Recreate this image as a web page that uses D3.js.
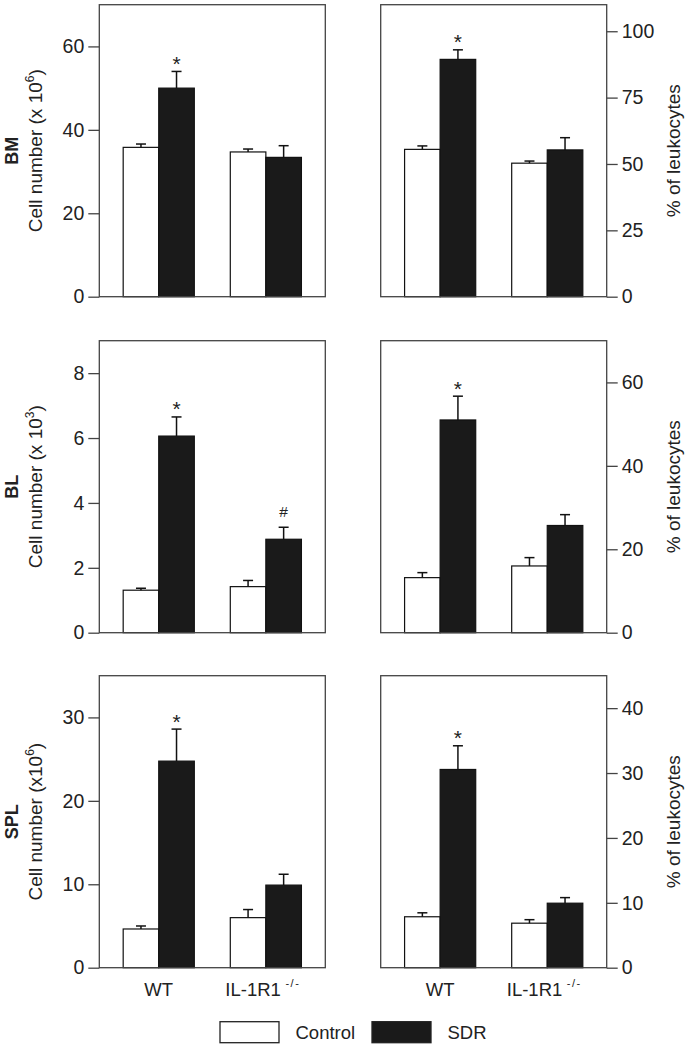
<!DOCTYPE html>
<html>
<head>
<meta charset="utf-8">
<script src="https://cdn.jsdelivr.net/npm/d3@7"></script>
<style>
  html, body { margin: 0; padding: 0; background: #fff; }
  svg { display: block; }
  text { font-family: "Liberation Sans", Arial, Helvetica, sans-serif; fill: #222; }
</style>
</head>
<body>
<svg id="chart" width="694" height="1050"></svg>
<script>
// ---------------- DATA ----------------
const groups = ["WT", "IL-1R1"];
const conditions = ["Control", "SDR"];
const organs = ["BM", "BL", "SPL"];

// values ordered: WT Control, WT SDR, IL-1R1 Control, IL-1R1 SDR
const bmCount    = [35.8, 50.0, 34.7, 33.4];
const bmCountErr = [0.8, 4.0, 0.7, 2.8];
const bmPct      = [55.5, 89.4, 50.3, 55.3];
const bmPctErr   = [1.3, 3.6, 0.8, 4.6];

const blCount    = [1.31, 6.06, 1.42, 2.88];
const blCountErr = [0.06, 0.59, 0.19, 0.37];
const blPct      = [13.2, 51.0, 16.0, 25.7];
const blPctErr   = [1.2, 5.7, 2.0, 2.6];

const splCount    = [4.64, 24.76, 6.0, 9.9];
const splCountErr = [0.36, 3.84, 0.97, 1.3];
const splPct      = [7.85, 30.55, 6.86, 9.94];
const splPctErr   = [0.61, 3.65, 0.54, 0.86];

// significance marks
const bmCountMarks  = ["", "*", "", ""];
const bmPctMarks    = ["", "*", "", ""];
const blCountMarks  = ["", "*", "", "#"];
const blPctMarks    = ["", "*", "", ""];
const splCountMarks = ["", "*", "", ""];
const splPctMarks   = ["", "*", "", ""];

// axis domains and ticks
const bmCountTicks  = [0, 20, 40, 60];
const bmPctTicks    = [0, 25, 50, 75, 100];
const blCountTicks  = [0, 2, 4, 6, 8];
const blPctTicks    = [0, 20, 40, 60];
const splCountTicks = [0, 10, 20, 30];
const splPctTicks   = [0, 10, 20, 30, 40];
const domainMax = { bmCount: 70, bmPct: 110, blCount: 9, blPct: 70, splCount: 35, splPct: 45 };

// y titles
const countTitles = [
  { pre: "Cell number (x 10", sup: "6", post: ")" },
  { pre: "Cell number (x 10", sup: "3", post: ")" },
  { pre: "Cell number (x10", sup: "6", post: ")" }
];
const pctTitle = "% of leukocytes";
const xLabels = [{ main: "WT", sup: "" }, { main: "IL-1R1", sup: " -/-" }];

// ---------------- LAYOUT ----------------
const svg = d3.select("#chart");
const colX = [99.3, 380.7];
const rowY = [4.7, 340.7, 675.7];
const PW = 226, PH = 292;
const FS = 18.5;
const TFS = 19.5;

const panels = [
  { row: 0, col: 0, vals: bmCount, errs: bmCountErr, marks: bmCountMarks, ticks: bmCountTicks, max: domainMax.bmCount },
  { row: 0, col: 1, vals: bmPct, errs: bmPctErr, marks: bmPctMarks, ticks: bmPctTicks, max: domainMax.bmPct },
  { row: 1, col: 0, vals: blCount, errs: blCountErr, marks: blCountMarks, ticks: blCountTicks, max: domainMax.blCount },
  { row: 1, col: 1, vals: blPct, errs: blPctErr, marks: blPctMarks, ticks: blPctTicks, max: domainMax.blPct },
  { row: 2, col: 0, vals: splCount, errs: splCountErr, marks: splCountMarks, ticks: splCountTicks, max: domainMax.splCount },
  { row: 2, col: 1, vals: splPct, errs: splPctErr, marks: splPctMarks, ticks: splPctTicks, max: domainMax.splPct }
];

const xGroup = d3.scaleBand().domain(groups).range([0, PW]).paddingInner(0.336).paddingOuter(0.223);
const xCond = d3.scaleBand().domain(conditions).range([0, xGroup.bandwidth()]).padding(0);

panels.forEach(p => {
  const g = svg.append("g").attr("transform", `translate(${colX[p.col]},${rowY[p.row]})`);
  const y = d3.scaleLinear().domain([0, p.max]).range([PH, 0]);

  const data = [];
  groups.forEach((gr, gi) => conditions.forEach((c, ci) => {
    const i = gi * 2 + ci;
    data.push({ group: gr, cond: c, v: p.vals[i], e: p.errs[i], mark: p.marks[i] });
  }));

  // bars
  g.selectAll("rect.bar").data(data).enter().append("rect")
    .attr("class", "bar")
    .attr("x", d => xGroup(d.group) + xCond(d.cond))
    .attr("y", d => y(d.v))
    .attr("width", xCond.bandwidth())
    .attr("height", d => PH - y(d.v))
    .attr("fill", d => d.cond === "SDR" ? "#1a1a1a" : "#ffffff")
    .attr("stroke", "#111")
    .attr("stroke-width", 1.2);

  // error bars (upper)
  const cx = d => xGroup(d.group) + xCond(d.cond) + xCond.bandwidth() / 2;
  g.selectAll("line.stem").data(data).enter().append("line")
    .attr("x1", cx).attr("x2", cx)
    .attr("y1", d => y(d.v)).attr("y2", d => y(d.v + d.e))
    .attr("stroke", "#111").attr("stroke-width", 1.5);
  g.selectAll("line.cap").data(data).enter().append("line")
    .attr("x1", d => cx(d) - 5).attr("x2", d => cx(d) + 5)
    .attr("y1", d => y(d.v + d.e)).attr("y2", d => y(d.v + d.e))
    .attr("stroke", "#111").attr("stroke-width", 1.5);

  // marks
  g.selectAll("text.mark").data(data.filter(d => d.mark)).enter().append("text")
    .attr("x", cx)
    .attr("y", d => y(d.v + d.e) - (d.mark === "#" ? 10 : 0.5))
    .attr("text-anchor", "middle")
    .style("font-size", d => d.mark === "#" ? "15.5px" : "21px")
    .text(d => d.mark);

  // frame
  g.append("rect").attr("x", 0).attr("y", 0).attr("width", PW).attr("height", PH)
    .attr("fill", "none").attr("stroke", "#444").attr("stroke-width", 1.3);

  // y axis
  const axis = (p.col === 0 ? d3.axisLeft(y) : d3.axisRight(y))
    .tickValues(p.ticks).tickSize(11).tickPadding(4).tickFormat(d3.format("d"));
  const ag = g.append("g").attr("transform", p.col === 0 ? "translate(0,0)" : `translate(${PW},0)`).call(axis);
  ag.select(".domain").remove();
  ag.selectAll(".tick line").attr("stroke", "#444").attr("stroke-width", 1.3);
  ag.selectAll(".tick text").style("font-size", TFS + "px").style("font-family", "Liberation Sans, Arial, sans-serif").attr("fill", "#222");

  const cy = PH / 2;
  if (p.col === 0) {
    // organ label (bold) and count title
    g.append("text")
      .attr("transform", `translate(${18.3 - colX[0]},${cy}) rotate(-90)`)
      .attr("text-anchor", "middle")
      .style("font-size", "18px").style("font-weight", "bold")
      .text(organs[p.row]);
    const t = countTitles[p.row];
    const tt = g.append("text")
      .attr("transform", `translate(${41.5 - colX[0]},${cy}) rotate(-90)`)
      .attr("text-anchor", "middle")
      .style("font-size", "19px");
    tt.append("tspan").text(t.pre);
    tt.append("tspan").attr("dy", -8).style("font-size", "12px").text(t.sup);
    tt.append("tspan").attr("dy", 8).text(t.post);
  } else {
    g.append("text")
      .attr("transform", `translate(${680 - colX[1]},${cy}) rotate(-90)`)
      .attr("text-anchor", "middle")
      .style("font-size", "19px")
      .text(pctTitle);
  }

  // x labels on bottom row
  if (p.row === 2) {
    groups.forEach((gr, gi) => {
      const lab = xLabels[gi];
      const tx = g.append("text")
        .attr("x", xGroup(gr) + xGroup.bandwidth() / 2 - (lab.sup ? 3 : 0))
        .attr("y", 996 - rowY[2])
        .attr("text-anchor", "middle")
        .style("font-size", FS + "px");
      tx.append("tspan").text(lab.main);
      if (lab.sup) {
        tx.append("tspan").attr("dy", -9).style("font-size", "11px").style("letter-spacing", "1.5px").text(lab.sup);
      }
    });
  }
});

// legend
const legend = svg.append("g");
const legendItems = [
  { name: "Control", fill: "#ffffff", x: 220 },
  { name: "SDR", fill: "#1a1a1a", x: 372 }
];
legendItems.forEach(it => {
  legend.append("rect").attr("x", it.x).attr("y", 1021.7).attr("width", 59).attr("height", 21)
    .attr("fill", it.fill).attr("stroke", "#222").attr("stroke-width", 1.3);
  legend.append("text").attr("x", it.x + 75.5).attr("y", 1039.2)
    .style("font-size", FS + "px").text(it.name);
});
</script>
</body>
</html>
